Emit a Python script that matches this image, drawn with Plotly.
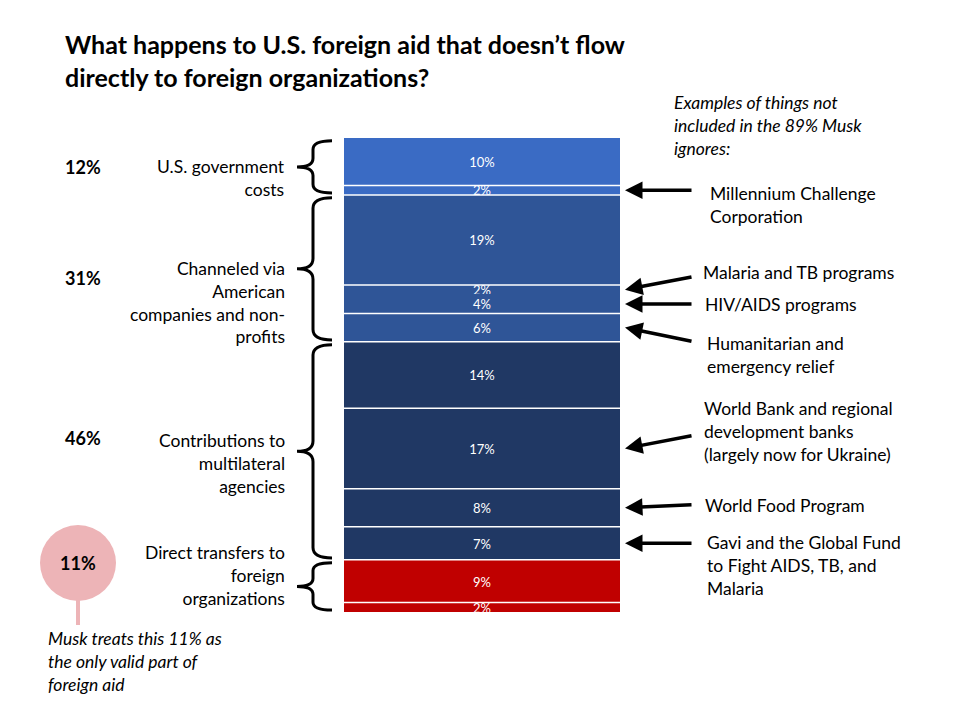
"""Stacked bar: where U.S. foreign aid goes, with brace groups and arrow callouts."""

import numpy as np
import plotly.graph_objects as go

# Data
segment_values = [10, 2, 19, 2, 4, 6, 14, 17, 8, 7, 9, 2]
segment_group = [0, 0, 1, 1, 1, 1, 2, 2, 2, 2, 3, 3]
group_names = [
    "U.S. government<br>costs",
    "Channeled via<br>American<br>companies and non-<br>profits",
    "Contributions to<br>multilateral<br>agencies",
    "Direct transfers to<br>foreign<br>organizations",
]
group_totals = ["12%", "31%", "46%", "11%"]
callout_texts = [
    "Millennium Challenge<br>Corporation",
    "Malaria and TB programs",
    "HIV/AIDS programs",
    "Humanitarian and<br>emergency relief",
    "World Bank and regional<br>development banks<br>(largely now for Ukraine)",
    "World Food Program",
    "Gavi and the Global Fund<br>to Fight AIDS, TB, and<br>Malaria",
]
callout_segment = [1, 3, 4, 5, 7, 8, 9]
title_text = "What happens to U.S. foreign aid that doesn\u2019t flow<br>directly to foreign organizations?"
examples_text = "Examples of things not<br>included in the 89% Musk<br>ignores:"
note_text = "Musk treats this 11% as<br>the only valid part of<br>foreign aid"

# Style
W, H = 960, 720
OFF = 8  # page margin around the figure
FONT = "Lato"
TXT = 17.5
group_colors = ["#3A6BC4", "#2F5597", "#203864", "#C00000"]
pink = "#EDB4B7"


def px(x):
    return (x - OFF) / W


def py(y):
    return 1 - (y - OFF) / H


cum = np.concatenate([[0], np.cumsum(segment_values)])
mids = (cum[:-1] + cum[1:]) / 2

fig = go.Figure()
for i, v in enumerate(segment_values):
    fig.add_trace(
        go.Bar(
            x=["aid"],
            y=[v],
            text=[f"{v}%"],
            textposition="inside",
            insidetextanchor="middle",
            textangle=0,
            textfont=dict(color="white", size=13, family=FONT),
            marker=dict(color=group_colors[segment_group[i]], line=dict(width=0)),
            hoverinfo="skip",
            showlegend=False,
        )
    )

shapes = []
# white separators between segments (none between malaria and HIV pieces)
for i in range(1, len(segment_values)):
    if i == 4:
        continue
    shapes.append(
        dict(type="line", xref="x domain", yref="y", x0=0, x1=1, y0=cum[i], y1=cum[i],
             line=dict(color="white", width=1.5))
    )

# curly braces per group
g_bounds = [0]
for g in range(len(group_names)):
    g_bounds.append(sum(v for v, k in zip(segment_values, segment_group) if k == g) + g_bounds[-1])
x_end, x_main, x_tip = px(332), px(313), px(297)
for g in range(len(group_names)):
    top, bot = g_bounds[g] + 0.6, g_bounds[g + 1] - 0.4
    mid = (top + bot) / 2
    r = min(2.2, (bot - top) / 6)
    path = (
        f"M {x_end},{top} Q {x_main},{top} {x_main},{top + r} "
        f"L {x_main},{mid - r} Q {x_main},{mid} {x_tip},{mid} "
        f"Q {x_main},{mid} {x_main},{mid + r} "
        f"L {x_main},{bot - r} Q {x_main},{bot} {x_end},{bot}"
    )
    shapes.append(dict(type="path", xref="paper", yref="y", path=path,
                       line=dict(color="black", width=3)))

# pink bubble with stem
shapes.append(dict(type="line", xref="paper", yref="paper", x0=px(78), x1=px(78),
                   y0=py(598), y1=py(625), line=dict(color=pink, width=4)))
shapes.append(dict(type="circle", xref="paper", yref="paper", x0=px(40), x1=px(116),
                   y0=py(601), y1=py(525), fillcolor=pink, line=dict(width=0)))

annotations = []


def note(text, x, y, xanchor="left", size=TXT, bold=False, italic=False, align=None):
    annotations.append(dict(
        text=text, xref="paper", yref="paper", x=px(x), y=py(y),
        xanchor=xanchor, yanchor="middle", align=align or xanchor,
        showarrow=False,
        font=dict(family=FONT, size=size, color="black",
                  weight="bold" if bold else "normal",
                  style="italic" if italic else "normal"),
    ))


note(title_text, 63, 61, size=25, bold=True)
note(examples_text, 672, 126, italic=True)
note(note_text, 46, 661, italic=True)

label_y = [178, 302, 463, 575]
for name, y in zip(group_names, label_y):
    note(name, 287, y, xanchor="right")

total_y = [167, 278, 438]
for t, y in zip(group_totals[:3], total_y):
    note(t, 63, y, size=18, bold=True)
note(group_totals[3], 78, 563, xanchor="center", size=18, bold=True)

callout_x = [708, 701, 703, 705, 702, 703, 705]
callout_y = [205, 272, 304, 355, 431, 505, 565]
arrow_ay = [0, -13, 0, 14, -13, -3, 0]
for text, x, y in zip(callout_texts, callout_x, callout_y):
    note(text, x, y)
for seg, ay in zip(callout_segment, arrow_ay):
    annotations.append(dict(
        xref="paper", yref="y", x=px(625), y=mids[seg], ax=68, ay=ay,
        text="", showarrow=True, arrowhead=2, arrowsize=1, arrowwidth=3.5,
        arrowcolor="black", standoff=0,
    ))

fig.update_layout(
    width=W,
    height=H,
    margin=dict(l=0, r=0, t=0, b=0),
    paper_bgcolor="white",
    plot_bgcolor="white",
    barmode="stack",
    bargap=0,
    uniformtext=dict(minsize=13, mode="show"),
    xaxis=dict(domain=[px(344), px(620)], range=[-0.5, 0.5], visible=False),
    yaxis=dict(domain=[py(612), py(138)], range=[100, 0], visible=False),
    shapes=shapes,
    annotations=annotations,
    font=dict(family=FONT),
)
fig.write_html("out.html")
